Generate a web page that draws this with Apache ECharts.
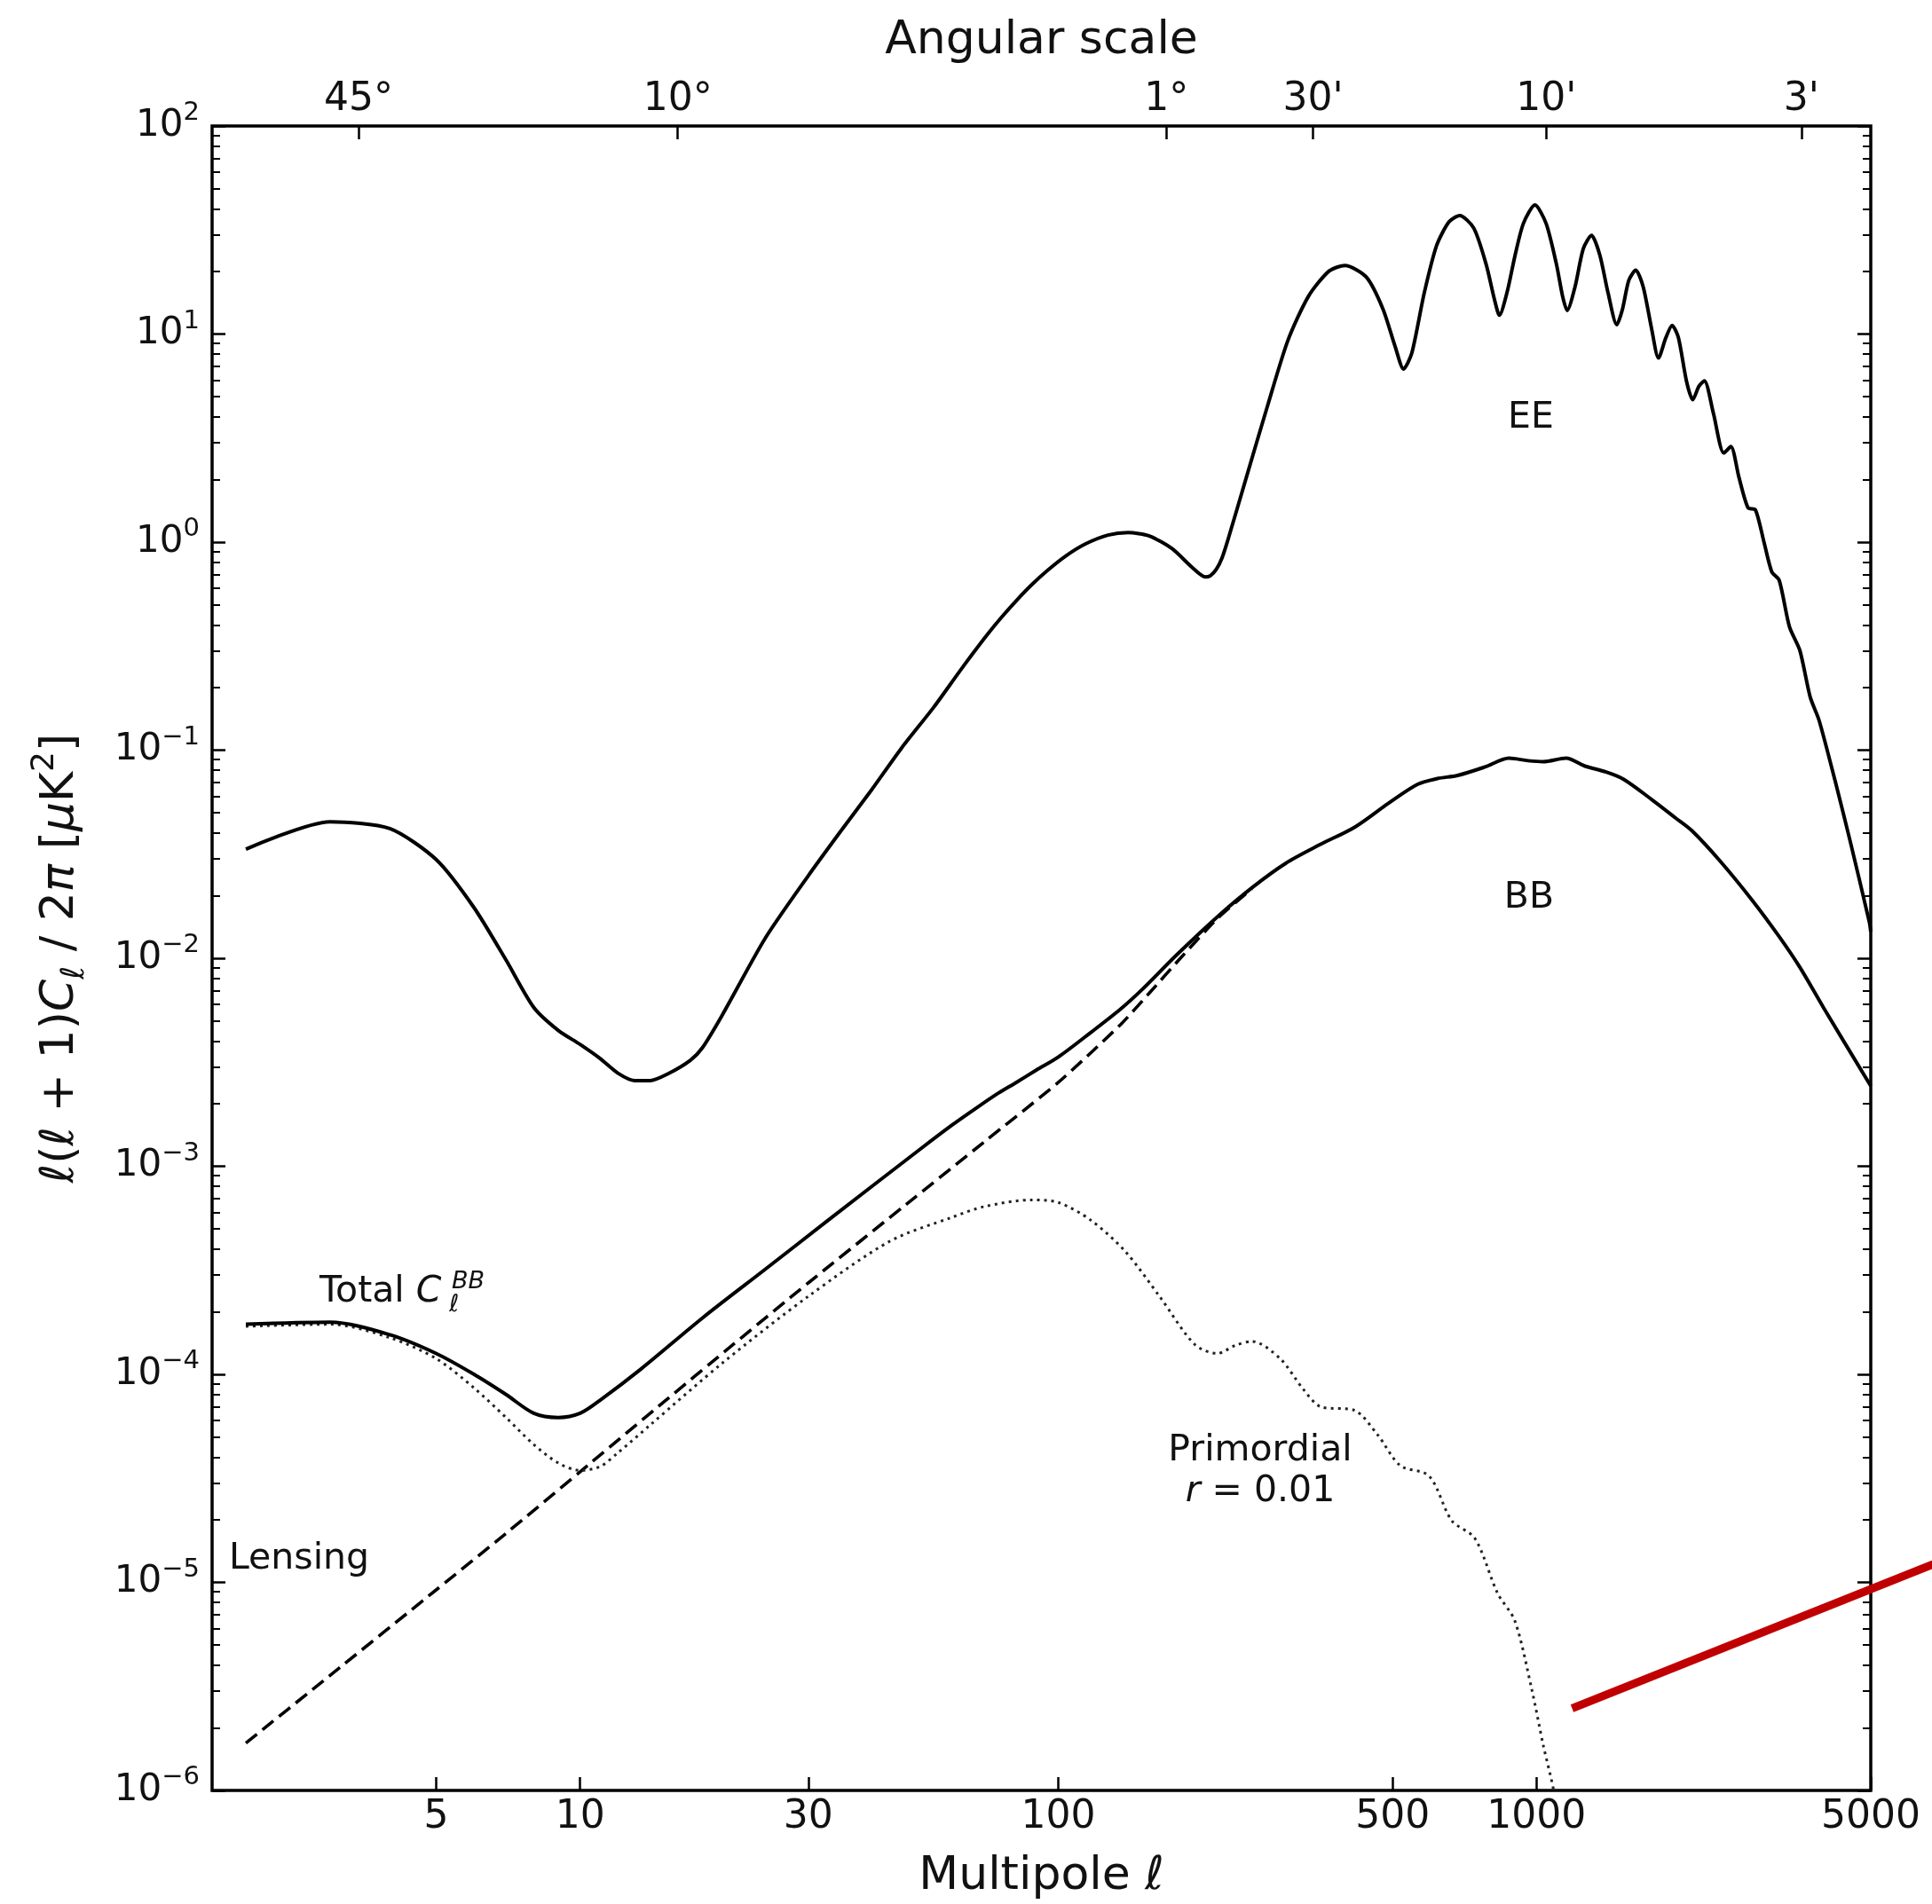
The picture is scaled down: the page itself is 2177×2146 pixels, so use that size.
<!DOCTYPE html>
<html>
<head>
<meta charset="utf-8">
<script src="https://cdn.jsdelivr.net/npm/echarts@6.0.0/dist/echarts.min.js"></script>
<style>
  html, body { margin: 0; padding: 0; background: #fff; }
  #chart { width: 2177px; height: 2146px; }
</style>
</head>
<body>
<div id="chart"></div>
<script>
// multipole l and l(l+1)C_l/2pi in uK^2
const eeL = [2, 3, 4, 5, 6, 7, 8, 9, 10, 11, 12, 13, 14, 15.3, 17, 18, 19.8, 24.4, 30, 35, 40.6, 47, 54.8, 62, 66, 70.8, 76, 82, 88, 95, 104, 114, 127, 140, 155, 173, 190, 203, 208, 214, 220, 227, 247.5, 273.4, 302, 333.6, 368.5, 397.4, 440.8, 477.3, 506.6, 527.1, 548.5, 582.3, 618, 656.2, 690.9, 739.3, 784.8, 816.6, 836.4, 867, 902.2, 938.8, 992.5, 1047.3, 1101, 1133.7, 1159, 1203.8, 1252.5, 1303.4, 1356.4, 1411.5, 1471.6, 1513.2, 1559.1, 1612.7, 1671.3, 1739.2, 1799.1, 1865, 1921.3, 1979.6, 2060, 2122.1, 2185, 2244, 2344.2, 2464, 2548.8, 2650, 2769, 2869, 2990, 3104, 3217, 3381, 3553, 3735, 3899, 4216, 4527, 4966, 5000];
const eeDl = [0.0334, 0.0453, 0.042, 0.0298, 0.0175, 0.0098, 0.0058, 0.0045, 0.00385, 0.0033, 0.0028, 0.00258, 0.00258, 0.00279, 0.00323, 0.0037, 0.0053, 0.0125, 0.0249, 0.0405, 0.064, 0.1023, 0.16, 0.237, 0.288, 0.356, 0.434, 0.528, 0.624, 0.732, 0.862, 0.98, 1.08, 1.11, 1.07, 0.93, 0.76, 0.68, 0.69, 0.74, 0.84, 1.05, 2.06, 4.46, 9.3, 15.2, 20.1, 21.35, 18.76, 13.21, 8.67, 6.79, 8.09, 15.73, 26.6, 34.6, 37.1, 32.3, 21.6, 14.67, 12.31, 15.74, 23.97, 34.0, 41.7, 34.0, 21.6, 15.2, 12.98, 16.88, 25.7, 29.8, 23.97, 15.74, 11.08, 13.21, 18.1, 20.26, 16.88, 10.7, 7.67, 9.63, 11.0, 9.63, 5.9, 4.83, 5.6, 5.96, 4.15, 2.68, 2.88, 2.05, 1.46, 1.43, 1.0, 0.72, 0.656, 0.391, 0.302, 0.18, 0.139, 0.0705, 0.0366, 0.0149, 0.0134];

const bbL = [2, 3, 4, 5, 6, 7, 8, 9, 10, 11, 13.4, 18.1, 24.4, 33, 51.7, 60, 67.7, 75, 81, 90, 100, 117, 135, 150, 177, 215, 254, 299, 353, 417, 491, 564, 620, 684, 780, 876, 960, 1033, 1153, 1260, 1398, 1520, 1743, 1954, 2113, 2427, 2830, 3217, 3553, 3980, 5000];
const bbDl = [1.74e-4, 1.78e-4, 1.55e-4, 1.26e-4, 1.0e-4, 8.0e-5, 6.5e-5, 6.2e-5, 6.5e-5, 7.5e-5, 1.06e-4, 1.88e-4, 3.2e-4, 5.5e-4, 1.22e-3, 1.58e-3, 1.92e-3, 2.25e-3, 2.5e-3, 2.9e-3, 3.35e-3, 4.4e-3, 5.7e-3, 7.1e-3, 1.04e-2, 1.58e-2, 2.18e-2, 2.86e-2, 3.52e-2, 4.27e-2, 5.57e-2, 6.85e-2, 7.3e-2, 7.56e-2, 8.3e-2, 9.15e-2, 8.9e-2, 8.8e-2, 9.15e-2, 8.4e-2, 7.85e-2, 7.25e-2, 5.78e-2, 4.72e-2, 4.1e-2, 2.91e-2, 1.89e-2, 1.27e-2, 9.05e-3, 5.8e-3, 2.43e-3];

const lensL = [2, 3, 5, 7, 10, 15, 20, 30, 50, 70, 100, 135, 155, 180, 215, 254];
const lensDl = [1.69e-6, 3.57e-6, 9.2e-6, 1.72e-5, 3.4e-5, 7.4e-5, 1.28e-4, 2.75e-4, 7.05e-4, 1.31e-3, 2.53e-3, 4.8e-3, 6.8e-3, 1.0e-2, 1.55e-2, 2.16e-2];

const primL = [2, 3, 4, 5, 6, 7, 8, 9, 10, 11, 12, 14, 20, 30, 44.5, 60, 70, 88, 100, 117, 138, 163, 193, 215, 235, 254, 291, 325, 353, 417, 465, 519, 596, 665, 743, 829, 901, 978, 1033, 1086, 1120];
const primDl = [1.70e-4, 1.74e-4, 1.5e-4, 1.19e-4, 8.6e-5, 6.2e-5, 4.6e-5, 3.75e-5, 3.45e-5, 3.6e-5, 4.2e-5, 5.7e-5, 1.15e-4, 2.37e-4, 4.37e-4, 5.69e-4, 6.4e-4, 6.89e-4, 6.7e-4, 5.5e-4, 3.9e-4, 2.36e-4, 1.39e-4, 1.26e-4, 1.38e-4, 1.44e-4, 1.19e-4, 8.5e-5, 7.0e-5, 6.7e-5, 5.13e-5, 3.64e-5, 3.25e-5, 1.98e-5, 1.63e-5, 8.87e-6, 6.53e-6, 3.04e-6, 1.65e-6, 1.0e-6, 6e-7];

// red overlay stroke (runs past the right edge of the frame)
const redL = [1187, 6755];
const redDl = [2.48e-6, 1.223e-5];

// ticks
const bottomTicks = [5, 10, 30, 100, 500, 1000, 5000];
const angularTickL = [3.44, 16.0, 168.3, 340.8, 1048, 3581];
const angularTickLabels = ['45°', '10°', '1°', "30'", "10'", "3'"];
const yTickExponents = [-6, -5, -4, -3, -2, -1, 0, 1, 2];

const FONT = "'DejaVu Sans', sans-serif";
const INK = '#111';
const lMin = 1.7, lMax = 5000;
const log10 = Math.log10;
const pairs = (xs, ys) => xs.map((x, i) => [x, ys[i]]);

const minorTicks = [];
for (let e = -6; e < 2; e++) {
  for (let k = 2; k <= 9; k++) minorTicks.push(e + log10(k));
}

// value axes in log10 space only carry ticks and labels
function tickAxis(opts) {
  return Object.assign({
    type: 'value',
    splitLine: { show: false },
    axisLine: { show: false, onZero: false },
  }, opts);
}

const chart = echarts.init(document.getElementById('chart'), null, { renderer: 'canvas' });

const option = {
  animation: false,
  backgroundColor: '#fff',
  grid: {
    left: 239, top: 142, width: 1869, height: 1877,
    show: true, borderColor: '#000', borderWidth: 3.5, backgroundColor: 'transparent',
  },
  xAxis: [
    { type: 'log', min: lMin, max: lMax, show: false },
    tickAxis({
      position: 'bottom', min: log10(lMin), max: log10(lMax),
      axisTick: { inside: true, length: 15, lineStyle: { color: '#000', width: 2.5 }, customValues: bottomTicks.map(log10) },
      axisLabel: {
        customValues: bottomTicks.map(log10),
        formatter: (v) => String(Math.round(Math.pow(10, v))),
        fontSize: 44, fontFamily: FONT, color: INK, margin: 9,
      },
      name: 'Multipole {i|ℓ}', nameLocation: 'middle', nameGap: 71,
      nameTextStyle: { fontSize: 52, fontFamily: FONT, color: INK, rich: { i: { fontSize: 52, fontFamily: FONT, fontStyle: 'italic', color: INK } } },
    }),
    tickAxis({
      position: 'top', min: log10(lMin), max: log10(lMax),
      axisTick: { inside: true, length: 15, lineStyle: { color: '#000', width: 2.5 }, customValues: angularTickL.map(log10) },
      axisLabel: {
        customValues: angularTickL.map(log10),
        formatter: (v) => {
          const i = angularTickL.findIndex((l) => Math.abs(log10(l) - v) < 1e-6);
          return i >= 0 ? angularTickLabels[i] : '';
        },
        fontSize: 44, fontFamily: FONT, color: INK, margin: 7,
      },
      name: 'Angular scale', nameLocation: 'middle', nameGap: 70,
      nameTextStyle: { fontSize: 52, fontFamily: FONT, color: INK },
    }),
  ],
  yAxis: [
    { type: 'log', logBase: 10, min: 1e-6, max: 100, show: false },
    tickAxis({
      position: 'left', min: -6, max: 2,
      axisTick: { inside: true, length: 15, lineStyle: { color: '#000', width: 2.5 }, customValues: yTickExponents },
      axisLabel: {
        customValues: yTickExponents,
        formatter: (v) => {
          const e = Math.round(v);
          return '10{s|' + (e < 0 ? '\u2212' + (-e) : String(e)) + '}';
        },
        fontSize: 42, lineHeight: 58, fontFamily: FONT, color: INK, margin: 14,
        rich: { s: { fontSize: 29, lineHeight: 29, verticalAlign: 'top', fontFamily: FONT, color: INK } },
      },
      name: '{i|ℓ}({i|ℓ} + 1){i|C}{sub|ℓ} / 2{i|π} [{i|μ}K{sup|2}]',
      nameLocation: 'middle', nameGap: 136, nameRotate: 90,
      nameTextStyle: {
        fontSize: 52, lineHeight: 70, fontFamily: FONT, color: INK,
        rich: {
          i: { fontSize: 52, lineHeight: 70, fontStyle: 'italic', fontFamily: FONT, color: INK },
          sub: { fontSize: 36, lineHeight: 36, verticalAlign: 'bottom', fontStyle: 'italic', fontFamily: FONT, color: INK },
          sup: { fontSize: 36, lineHeight: 36, verticalAlign: 'top', fontFamily: FONT, color: INK },
        },
      },
    }),
    tickAxis({
      position: 'left', min: -6, max: 2,
      axisTick: { inside: true, length: 9, lineStyle: { color: '#000', width: 2 }, customValues: minorTicks },
      axisLabel: { show: false },
    }),
    tickAxis({
      position: 'right', min: -6, max: 2,
      axisTick: { inside: true, length: 15, lineStyle: { color: '#000', width: 2.5 }, customValues: yTickExponents },
      axisLabel: { show: false },
    }),
    tickAxis({
      position: 'right', min: -6, max: 2,
      axisTick: { inside: true, length: 9, lineStyle: { color: '#000', width: 2 }, customValues: minorTicks },
      axisLabel: { show: false },
    }),
  ],
  series: [
    {
      name: 'Lensing', type: 'line', xAxisIndex: 0, yAxisIndex: 0,
      data: pairs(lensL, lensDl), symbol: 'none', smooth: 0.2, z: 2, silent: true,
      lineStyle: { color: '#000', width: 3.6, type: [16, 8] },
    },
    {
      name: 'Primordial', type: 'line', xAxisIndex: 0, yAxisIndex: 0,
      data: pairs(primL, primDl), symbol: 'none', smooth: 0.3, z: 2, silent: true,
      lineStyle: { color: '#222', width: 3, type: [3, 5] },
    },
    {
      name: 'BB', type: 'line', xAxisIndex: 0, yAxisIndex: 0,
      data: pairs(bbL, bbDl), symbol: 'none', smooth: 0.3, z: 3, silent: true,
      lineStyle: { color: '#000', width: 4 },
    },
    {
      name: 'EE', type: 'line', xAxisIndex: 0, yAxisIndex: 0,
      data: pairs(eeL, eeDl), symbol: 'none', smooth: 0.25, z: 3, silent: true,
      lineStyle: { color: '#000', width: 4 },
    },
    {
      name: 'overlay', type: 'custom', xAxisIndex: 0, yAxisIndex: 0,
      data: pairs(redL, redDl), clip: false, z: 5, silent: true,
      renderItem: (params, api) => {
        if (params.dataIndex !== 0) return null;
        const p0 = api.coord([redL[0], redDl[0]]);
        const p1 = api.coord([redL[1], redDl[1]]);
        return {
          type: 'line',
          shape: { x1: p0[0], y1: p0[1], x2: p1[0], y2: p1[1] },
          style: { stroke: '#c00000', lineWidth: 9, lineCap: 'butt' },
        };
      },
    },
  ],
  graphic: [
    { type: 'text', x: 1725, y: 471, style: { text: 'EE', fontSize: 41, fontFamily: FONT, fill: INK, align: 'center', verticalAlign: 'middle' } },
    { type: 'text', x: 1723, y: 1012, style: { text: 'BB', fontSize: 41, fontFamily: FONT, fill: INK, align: 'center', verticalAlign: 'middle' } },
    { type: 'text', x: 258, y: 1757, style: { text: 'Lensing', fontSize: 41, fontFamily: FONT, fill: INK, align: 'left', verticalAlign: 'middle' } },
    {
      type: 'text', x: 360, y: 1456,
      style: {
        text: 'Total {i|C}', fontSize: 41, fontFamily: FONT, fill: INK, align: 'left', verticalAlign: 'middle',
        rich: { i: { fontSize: 41, fontFamily: FONT, fontStyle: 'italic', fill: INK } },
      },
    },
    { type: 'text', x: 509, y: 1445, style: { text: 'BB', fontSize: 27, fontStyle: 'italic', fontFamily: FONT, fill: INK, align: 'left', verticalAlign: 'middle' } },
    { type: 'text', x: 506, y: 1471, style: { text: 'ℓ', fontSize: 27, fontStyle: 'italic', fontFamily: FONT, fill: INK, align: 'left', verticalAlign: 'middle' } },
    { type: 'text', x: 1420, y: 1635, style: { text: 'Primordial', fontSize: 41, fontFamily: FONT, fill: INK, align: 'center', verticalAlign: 'middle' } },
    {
      type: 'text', x: 1420, y: 1681,
      style: {
        text: '{i|r} = 0.01', fontSize: 41, fontFamily: FONT, fill: INK, align: 'center', verticalAlign: 'middle',
        rich: { i: { fontSize: 41, fontFamily: FONT, fontStyle: 'italic', fill: INK } },
      },
    },
  ],
};

chart.setOption(option);
</script>
</body>
</html>
